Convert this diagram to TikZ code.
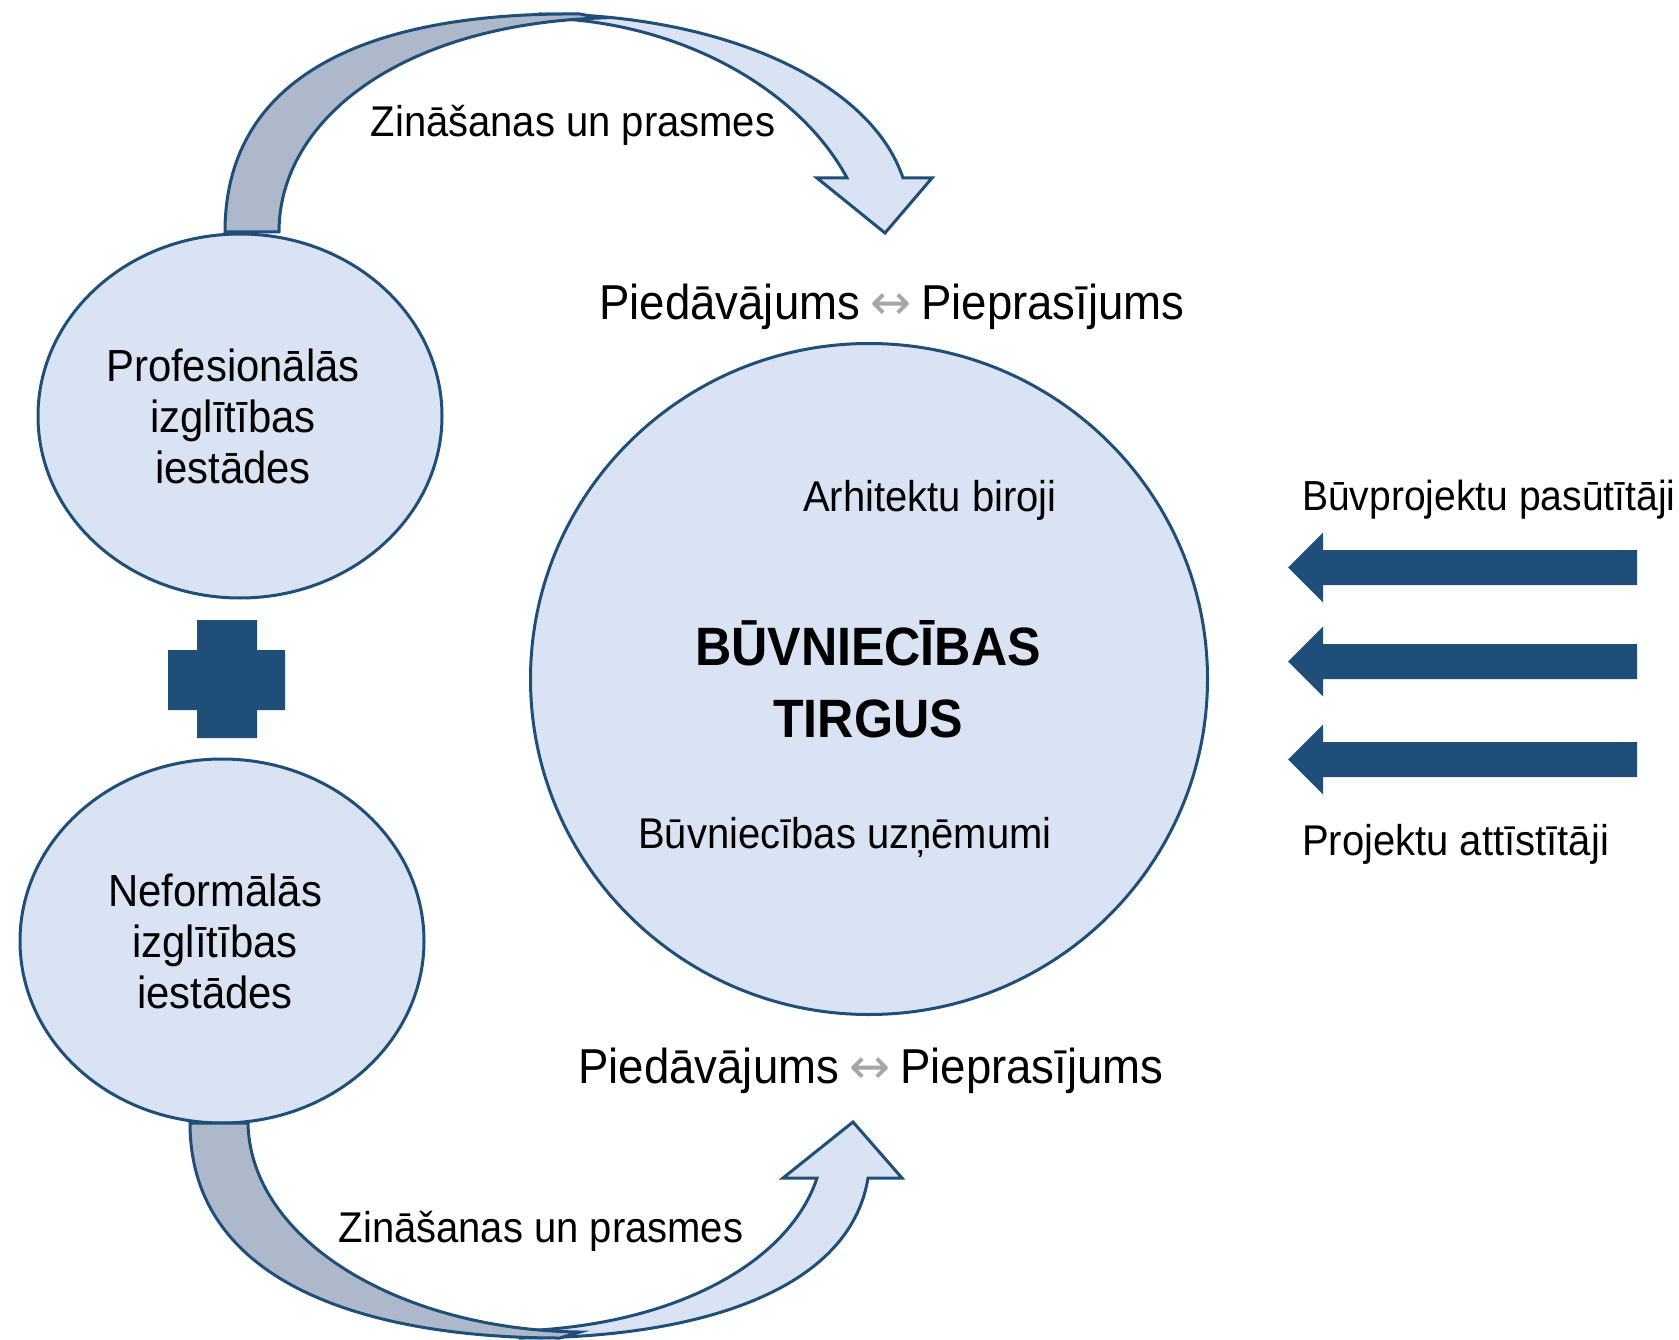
\documentclass[tikz,border=0pt]{standalone}
\usepackage{fontspec}
\setmainfont{Liberation Sans}[FakeStretch=0.93]
\newfontfamily\symfont{DejaVu Sans}
\usetikzlibrary{shapes.geometric}
\definecolor{dblue}{HTML}{1F4E79}
\definecolor{lblue}{HTML}{DAE3F3}
\definecolor{bgray}{HTML}{ADB9CA}
\definecolor{agray}{HTML}{A6A6A6}
\tikzset{
  ell/.style={ellipse, draw=dblue, line width=3pt, fill=lblue, inner sep=0pt},
  elltxt/.style={inner sep=0pt, align=center, font=\fontsize{45}{51}\selectfont},
  backband/.style={draw=dblue, fill=bgray, line width=3pt, line join=miter},
  frontband/.style={draw=dblue, fill=lblue, line width=3pt, line join=miter},
  solidblue/.style={fill=dblue, draw=none},
  txt/.style={inner sep=0pt, font=\fontsize{43}{50}\selectfont},
  bigtxt/.style={inner sep=0pt, font=\fontsize{49}{56}\selectfont},
  boldtxt/.style={inner sep=0pt, font=\fontsize{54}{62}\selectfont\bfseries},
}
\newcommand{\lrarrow}{\hspace{10pt}{\symfont\color{agray}↔}\hspace{10pt}}
\begin{document}
\begin{tikzpicture}[x=1pt,y=-1pt]
\useasboundingbox (0,0) rectangle (1679,1340);

% circles
\node[ell, minimum width=404pt, minimum height=364pt] (prof) at (240,416) {};
\node[ell, minimum width=404pt, minimum height=364pt] (nef) at (222,941) {};
\node[ell, minimum width=677pt, minimum height=671pt] (tirgus) at (869,679) {};
\node[elltxt] (proftxt) at ([xshift=-7pt]prof.center) {Profesionālās\\izglītības\\iestādes};
\node[elltxt] (neftxt) at ([xshift=-7pt]nef.center) {Neformālās\\izglītības\\iestādes};

% top curved arrow
\path[frontband] (540,14) .. controls (720,14) and (870,80) .. (903,178)
  -- (932,178) -- (885,233) -- (817,178) -- (847,178)
  .. controls (800,90) and (680,20) .. (540,18) -- cycle;
\path[backband] (225,232) .. controls (225,80) and (360,12) .. (580,14)
  -- (600,18) .. controls (400,25) and (279,120) .. (279,232) -- cycle;

% bottom curved arrow
\path[frontband] (520,1338) .. controls (700,1338) and (850,1290) .. (868,1178)
  -- (902,1178) -- (853,1122) -- (783,1178) -- (817,1178)
  .. controls (790,1260) and (680,1325) .. (520,1331) -- cycle;
\path[backband] (190,1123) .. controls (190,1290) and (380,1338) .. (560,1338)
  -- (580,1332) .. controls (400,1330) and (250,1240) .. (248,1123) -- cycle;

% plus
\path[solidblue] (197,620) -- (257,620) -- (257,650) -- (285,650) -- (285,710)
  -- (257,710) -- (257,738) -- (197,738) -- (197,710) -- (168,710)
  -- (168,650) -- (197,650) -- cycle;

% right arrows
\foreach \yc in {567.5,661.5,759.5}{
  \path[solidblue] (1637,\yc-17.5) -- (1323,\yc-17.5) -- (1323,\yc-35)
    -- (1288,\yc) -- (1323,\yc+35) -- (1323,\yc+17.5) -- (1637,\yc+17.5) -- cycle;
}

% texts
\node[txt, anchor=base] (zin1) at (573,137) {Zināšanas un prasmes};
\node[txt, anchor=base] (zin2) at (541,1242) {Zināšanas un prasmes};
\node[bigtxt, anchor=base] (pp1) at (892,320) {Piedāvājums\lrarrow Pieprasījums};
\node[bigtxt, anchor=base] (pp2) at (871,1083) {Piedāvājums\lrarrow Pieprasījums};
\node[txt, anchor=base] (arh) at (930,511) {Arhitektu biroji};
\node[boldtxt, anchor=base] (bv) at (868,665) {BŪVNIECĪBAS};
\node[boldtxt, anchor=base] (tg) at (868,737) {TIRGUS};
\node[txt, anchor=base] (uzn) at (845,848) {Būvniecības uzņēmumi};
\node[txt, anchor=base west, font=\fontsize{42}{50}\selectfont] (pas) at (1302,510) {Būvprojektu pasūtītāji};
\node[txt, anchor=base west] (att) at (1302,855) {Projektu attīstītāji};
\end{tikzpicture}
\end{document}
